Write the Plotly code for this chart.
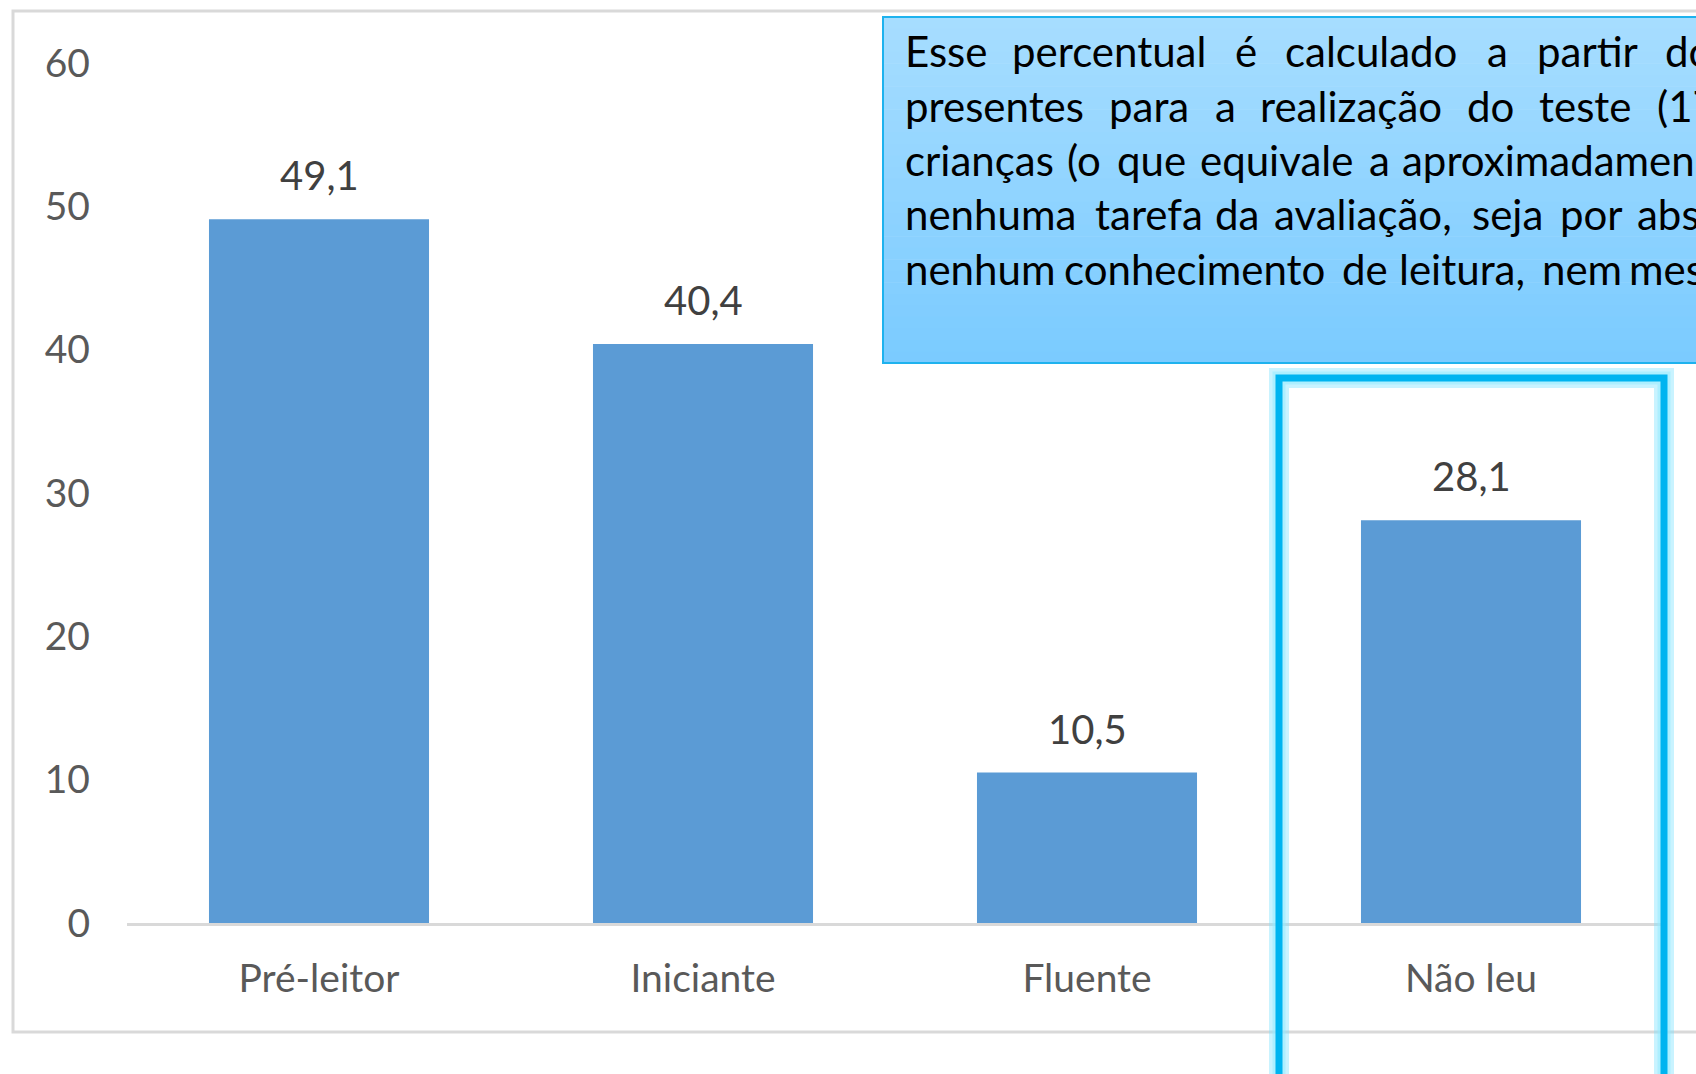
import plotly.graph_objects as go

categories = ["Pré-leitor", "Iniciante", "Fluente", "Não leu"]
values = [49.1, 40.4, 10.5, 28.1]
y_ticks = [0, 10, 20, 30, 40, 50, 60]

# text box content (as visible, cut off at right edge)
box_lines = [
    ["Esse", "percentual", "é", "calculado", "a", "partir", "do"],
    ["presentes", "para", "a", "realização", "do", "teste", "(17"],
    ["crianças", "(o", "que", "equivale", "a", "aproximadamen"],
    ["nenhuma", "tarefa", "da", "avaliação,", "seja", "por", "abs"],
    ["nenhum", "conhecimento", "de", "leitura,", "nem", "mes"],
]

W, H = 1696, 1074
L, R, T, B = 127, 1663, 63, 923


def X(px):
    return (px - L) / (R - L)


def Y(py):
    return (B - py) / (B - T)


FONT = "Lato"

fig = go.Figure()
fig.add_trace(go.Bar(
    x=categories, y=values,
    marker=dict(color="#5b9bd5", line=dict(width=0)),
    hoverinfo="skip",
))

shapes = []
# outer chart border
shapes.append(dict(type="rect", xref="paper", yref="paper",
                   x0=X(13), x1=X(1730), y0=Y(11), y1=Y(1032),
                   line=dict(color="#d9d9d9", width=3), fillcolor="rgba(0,0,0,0)",
                   layer="below"))

# gradient text box
top_c = (166, 221, 255)
bot_c = (123, 203, 255)
nb = 30
y_top, y_bot = 17, 363
for i in range(nb):
    t = i / (nb - 1)
    c = tuple(round(top_c[k] + (bot_c[k] - top_c[k]) * t) for k in range(3))
    ya = y_top + (y_bot - y_top) * i / nb
    yb = y_top + (y_bot - y_top) * (i + 1) / nb
    shapes.append(dict(type="rect", xref="paper", yref="paper",
                       x0=X(883), x1=X(1730), y0=Y(ya), y1=Y(yb + 0.6),
                       line=dict(width=0), fillcolor="rgb(%d,%d,%d)" % c, layer="above"))
shapes.append(dict(type="rect", xref="paper", yref="paper",
                   x0=X(883), x1=X(1730), y0=Y(y_top), y1=Y(y_bot),
                   line=dict(color="#1eb2ee", width=2), fillcolor="rgba(0,0,0,0)", layer="above"))

# highlight box with glow
hb = dict(x0=X(1279), x1=X(1664), y0=Y(378), y1=Y(1110))
shapes.append(dict(type="rect", xref="paper", yref="paper", **hb,
                   line=dict(color="rgba(120,225,255,0.4)", width=20),
                   fillcolor="rgba(0,0,0,0)", layer="above"))
shapes.append(dict(type="rect", xref="paper", yref="paper", **hb,
                   line=dict(color="rgba(150,235,255,0.55)", width=13),
                   fillcolor="rgba(0,0,0,0)", layer="above"))
shapes.append(dict(type="rect", xref="paper", yref="paper", **hb,
                   line=dict(color="#00b4f0", width=7),
                   fillcolor="rgba(0,0,0,0)", layer="above"))

annotations = []
# value labels
for c, v in zip(categories, values):
    annotations.append(dict(
        x=c, y=v, xref="x", yref="y",
        text=("%.1f" % v).replace(".", ","),
        showarrow=False, yanchor="middle", yshift=44,
        font=dict(family=FONT, size=40, color="#404040"),
    ))

# text box words / lines
word_x = [
    [903, 1010, 1233, 1283, 1485, 1535, 1663],
    [903, 1107, 1213, 1258, 1465, 1537, 1655],
    [903, 1065, 1115, 1198, 1367, 1400],
    [903, 1093, 1213, 1272, 1470, 1558, 1635],
    [903, 1062, 1340, 1397, 1540, 1627],
]
line_y = [51, 106, 160, 214, 269]
for words, xs, ly in zip(box_lines, word_x, line_y):
    for w, xp in zip(words, xs):
        annotations.append(dict(
            x=X(xp), y=Y(ly), xref="paper", yref="paper",
            text=w, showarrow=False, xanchor="left", yanchor="middle",
            font=dict(family=FONT, size=42, color="#000000"),
        ))

fig.update_layout(
    width=W, height=H,
    margin=dict(l=L, r=W - R, t=T, b=H - B, pad=0),
    paper_bgcolor="white", plot_bgcolor="white",
    bargap=0.427,
    showlegend=False,
    shapes=shapes,
    annotations=annotations,
    xaxis=dict(
        showline=True, linecolor="#d9d9d9", linewidth=3,
        ticks="", showgrid=False, zeroline=False,
        tickfont=dict(family=FONT, size=39, color="#595959"),
        ticklabelstandoff=19,
        fixedrange=True,
    ),
    yaxis=dict(
        range=[0, 60], tickvals=y_ticks, ticktext=[str(t) for t in y_ticks],
        showline=False, showgrid=False, zeroline=False, ticks="",
        tickfont=dict(family=FONT, size=39, color="#595959"),
        ticklabelstandoff=36,
        fixedrange=True,
    ),
)

fig.write_html("out.html", config={"displayModeBar": False},
               post_script="document.body.style.margin='0px';")
